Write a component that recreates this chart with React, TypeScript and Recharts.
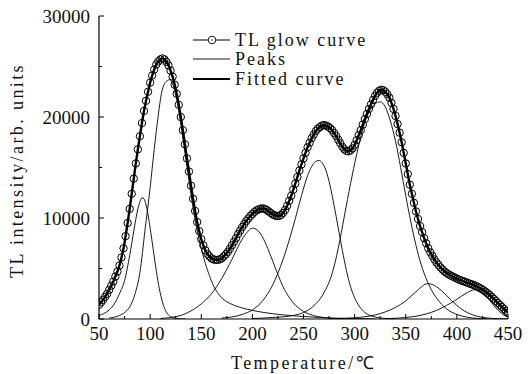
import { Line, LineChart, XAxis, YAxis } from "recharts";

// TL glow curve, measured every 2 °C from 50 °C
const GLOW_START = 50;
const GLOW_STEP = 2;
const glowIntensity = [
  1400, 1650, 1900, 2200, 2500, 2900, 3300, 3700, 4200, 4700,
  5300, 6100, 7000, 8200, 9500, 10900, 12400, 13900, 15400, 16800,
  18100, 19400, 20600, 21600, 22500, 23400, 24100, 24700, 25200, 25500,
  25700, 25800, 25700, 25450, 25100, 24600, 24000, 23200, 22300, 21200,
  20000, 18700, 17300, 15900, 14600, 13200, 11900, 10700, 9600, 8700,
  7900, 7300, 6800, 6450, 6200, 6000, 5900, 5850, 5850, 5900,
  6000, 6200, 6400, 6650, 6950, 7300, 7650, 8000, 8400, 8750,
  9100, 9400, 9700, 9950, 10200, 10400, 10600, 10750, 10850, 10920,
  10950, 10900, 10800, 10650, 10500, 10350, 10250, 10200, 10200, 10300,
  10500, 10800, 11200, 11700, 12200, 12800, 13400, 14050, 14700, 15300,
  15900, 16450, 17000, 17450, 17900, 18250, 18600, 18850, 19000, 19150,
  19200, 19150, 19050, 18900, 18700, 18400, 18100, 17750, 17400, 17050,
  16800, 16650, 16600, 16700, 16900, 17250, 17700, 18200, 18700, 19250,
  19800, 20300, 20800, 21250, 21700, 22100, 22400, 22600, 22700, 22650,
  22500, 22250, 21900, 21400, 20800, 20100, 19300, 18450, 17500, 16450,
  15400, 14350, 13300, 12400, 11500, 10650, 9900, 9200, 8600, 8000,
  7500, 7000, 6600, 6250, 5900, 5600, 5350, 5100, 4900, 4700,
  4550, 4420, 4300, 4200, 4100, 4000, 3900, 3820, 3750, 3680,
  3600, 3520, 3450, 3380, 3300, 3200, 3100, 2980, 2850, 2700,
  2550, 2380, 2200, 2000, 1800, 1600, 1400, 1200, 1000, 820,
  650,
];

// fitted components, [temperature, intensity]
const peak1 = [
  [50, 350], [55, 550], [60, 900], [65, 1500], [70, 2500], [75, 3800], [80, 6300],
  [84, 8700], [88, 10900], [90, 11600], [92, 12000], [94, 11900], [96, 11300],
  [98, 10300], [100, 9000], [103, 6900], [106, 4800], [109, 3000], [112, 1700],
  [115, 850], [118, 400], [122, 150], [126, 50], [130, 10], [135, 0],
];
const peak2 = [
  [60, 100], [70, 350], [80, 1200], [85, 2400], [90, 4600], [95, 8800], [100, 13000],
  [104, 16800], [108, 20200], [111, 22300], [114, 23300], [117, 23600], [119, 23700],
  [121, 23500], [124, 22600], [127, 21200], [130, 19300], [134, 16500], [138, 13700],
  [142, 11000], [146, 8800], [150, 7000], [154, 5500], [158, 4300], [162, 3300],
  [166, 2600], [170, 2100], [180, 1450], [190, 1100], [200, 850], [220, 520],
  [240, 320], [260, 180], [280, 90], [300, 40], [320, 10],
];
const peak3 = [
  [110, 50], [120, 150], [130, 350], [140, 800], [150, 1500], [160, 2500], [170, 4000],
  [180, 5900], [190, 7900], [195, 8600], [200, 9000], [205, 8800], [210, 8100],
  [215, 7000], [220, 5700], [225, 4400], [230, 3200], [235, 2300], [240, 1600],
  [250, 750], [260, 330], [270, 140], [280, 50], [290, 15],
];
const peak4 = [
  [170, 100], [180, 200], [190, 450], [200, 900], [210, 1800], [220, 3400], [230, 5900],
  [240, 9200], [248, 12200], [254, 14200], [258, 15100], [262, 15600], [265, 15700],
  [268, 15500], [272, 14700], [276, 13200], [280, 11200], [284, 9000], [288, 6800],
  [292, 4800], [296, 3200], [300, 2100], [305, 1200], [310, 650], [320, 200],
  [330, 60], [340, 15],
];
const peak5 = [
  [200, 50], [220, 150], [240, 350], [250, 650], [260, 1300], [270, 2600], [278, 4500],
  [284, 7000], [290, 10200], [296, 13400], [302, 16300], [308, 18800], [314, 20500],
  [320, 21300], [325, 21500], [330, 21000], [335, 19600], [340, 17600], [345, 15000],
  [350, 12200], [355, 9600], [360, 7300], [365, 5400], [370, 4000], [375, 2900],
  [380, 2100], [390, 1000], [400, 450], [410, 180], [420, 60], [430, 20],
];
const peak6 = [
  [280, 40], [300, 120], [320, 400], [330, 700], [340, 1150], [350, 1800], [355, 2250],
  [360, 2700], [365, 3150], [370, 3480], [372, 3500], [376, 3420], [380, 3200],
  [385, 2800], [390, 2300], [395, 1800], [400, 1350], [405, 950], [410, 650],
  [420, 270], [430, 100], [440, 35], [450, 10],
];
const peak7 = [
  [330, 30], [350, 150], [360, 280], [370, 500], [380, 850], [390, 1350], [400, 1950],
  [405, 2300], [410, 2600], [415, 2850], [418, 2900], [422, 2800], [426, 2500],
  [430, 2100], [434, 1600], [438, 1100], [442, 700], [446, 380], [450, 180],
];

const xTicks = [50, 75, 100, 125, 150, 175, 200, 225, 250, 275, 300, 325, 350, 375, 400, 425, 450];
const yTicks = [0, 5000, 10000, 15000, 20000, 25000, 30000];

const FONT = "'Liberation Serif', 'Times New Roman', serif";

const glowData = glowIntensity.map((v, i) => ({ t: GLOW_START + GLOW_STEP * i, v }));
const peaks = [peak1, peak2, peak3, peak4, peak5, peak6, peak7].map((p) =>
  p.map(([t, v]) => ({ t, v }))
);

function XTick({ x, y, payload }: any) {
  const major = payload.value % 50 === 0;
  return (
    <g>
      <line x1={x} x2={x} y1={y} y2={y - (major ? 5 : 3)} stroke="#000" />
      {major && (
        <text x={x} y={y + 21} textAnchor="middle" fontFamily={FONT} fontSize={19} fill="#111">
          {payload.value}
        </text>
      )}
    </g>
  );
}

function YTick({ x, y, payload }: any) {
  const major = payload.value % 10000 === 0;
  return (
    <g>
      <line x1={x} x2={x + (major ? 5 : 3)} y1={y} y2={y} stroke="#000" />
      {major && (
        <text x={x - 9} y={y + 6.5} textAnchor="end" fontFamily={FONT} fontSize={19} fill="#111">
          {payload.value}
        </text>
      )}
    </g>
  );
}

function GlowDot(p: any) {
  if (p.cx == null || p.cy == null) return <g key={`dot-${p.index}`} />;
  return (
    <g key={`dot-${p.index}`}>
      <circle cx={p.cx} cy={p.cy} r={3.7} fill="none" stroke="#000" strokeWidth={1} />
      <circle cx={p.cx} cy={p.cy} r={0.6} fill="#000" />
    </g>
  );
}

function LegendBox() {
  const row = { display: "flex", alignItems: "center", height: 19.5 } as const;
  const text = {
    fontFamily: FONT,
    fontSize: 18,
    letterSpacing: 2,
    marginLeft: 5,
    color: "#111",
    lineHeight: "18px",
  };
  return (
    <div style={{ position: "absolute", left: 185, top: 30 }}>
      <div style={row}>
        <svg width={37} height={10}>
          <line x1={0} x2={37} y1={5} y2={5} stroke="#000" />
          <circle cx={19} cy={5} r={3.8} fill="#fff" stroke="#000" strokeWidth={0.9} />
          <circle cx={19} cy={5} r={0.7} fill="#000" />
        </svg>
        <span style={text}>TL glow curve</span>
      </div>
      <div style={row}>
        <svg width={37} height={10}>
          <line x1={0} x2={37} y1={5} y2={5} stroke="#000" strokeWidth={0.9} />
        </svg>
        <span style={text}>Peaks</span>
      </div>
      <div style={row}>
        <svg width={37} height={10}>
          <line x1={0} x2={37} y1={5} y2={5} stroke="#000" strokeWidth={2.2} />
        </svg>
        <span style={text}>Fitted curve</span>
      </div>
    </div>
  );
}

export default function App() {
  return (
    <div style={{ position: "relative", width: 520, height: 376, marginTop: -8 }}>
      <LineChart width={520} height={376} margin={{ top: 16, right: 20, left: 0, bottom: 8 }}>
        <XAxis
          dataKey="t"
          type="number"
          domain={[50, 450]}
          ticks={xTicks}
          interval={0}
          height={49}
          tickSize={0}
          tickMargin={0}
          tickLine={false}
          tick={<XTick />}
          axisLine={{ stroke: "#000", strokeWidth: 1.2 }}
          allowDataOverflow
          label={({ viewBox }: any) => (
            <text
              x={viewBox.x + viewBox.width / 2}
              y={viewBox.y + 50}
              textAnchor="middle"
              fontFamily={FONT}
              fontSize={18}
              letterSpacing={2.4}
              fill="#111"
            >
              Temperature/℃
            </text>
          )}
        />
        <XAxis
          xAxisId="top"
          orientation="top"
          dataKey="t"
          type="number"
          domain={[50, 450]}
          height={0}
          tick={false}
          tickLine={false}
          axisLine={{ stroke: "#000", strokeWidth: 1.2 }}
        />
        <YAxis
          type="number"
          domain={[0, 30000]}
          ticks={yTicks}
          interval={0}
          width={91}
          tickSize={0}
          tickMargin={0}
          tickLine={false}
          tick={<YTick />}
          axisLine={{ stroke: "#000", strokeWidth: 1.2 }}
          allowDataOverflow
          label={({ viewBox }: any) => {
            const cx = 9;
            const cy = viewBox.y + viewBox.height / 2 + 3;
            return (
              <text
                x={cx}
                y={cy}
                transform={`rotate(-90 ${cx} ${cy})`}
                textAnchor="middle"
                dominantBaseline="central"
                fontFamily={FONT}
                fontSize={18}
                letterSpacing={2.4}
                fill="#111"
              >
                TL intensity/arb. units
              </text>
            );
          }}
        />
        <YAxis
          yAxisId="right"
          orientation="right"
          domain={[0, 30000]}
          width={0}
          tick={false}
          tickLine={false}
          axisLine={{ stroke: "#000", strokeWidth: 1.2 }}
        />
        {peaks.map((d, i) => (
          <Line
            key={`peak-${i}`}
            data={d}
            dataKey="v"
            type="monotone"
            stroke="#000"
            strokeWidth={0.9}
            dot={false}
            activeDot={false}
            isAnimationActive={false}
          />
        ))}
        <Line
          data={glowData}
          dataKey="v"
          type="monotone"
          stroke="#000"
          strokeWidth={2.4}
          dot={false}
          activeDot={false}
          isAnimationActive={false}
        />
        <Line
          data={glowData}
          dataKey="v"
          type="monotone"
          stroke="none"
          strokeWidth={0}
          dot={GlowDot}
          activeDot={false}
          isAnimationActive={false}
        />
      </LineChart>
      <LegendBox />
    </div>
  );
}
